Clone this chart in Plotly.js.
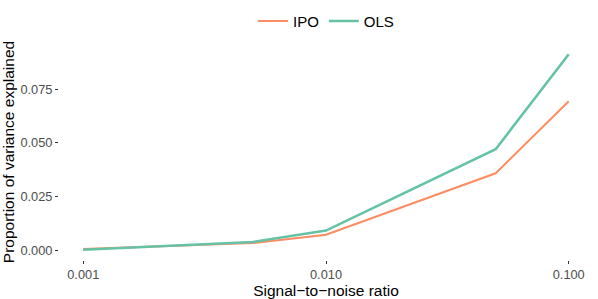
<!DOCTYPE html>
<html>
<head>
<meta charset="utf-8">
<script src="https://cdn.plot.ly/plotly-3.0.1.min.js"></script>
<style>html,body{margin:0;padding:0;background:#fff;}#chart{width:598px;height:299px;}</style>
</head>
<body>
<div id="chart"></div>
<script>
const snr = [0.001, 0.005, 0.01, 0.05, 0.1];
const ipo = [0.0005, 0.0033, 0.0072, 0.0358, 0.0693];
const ols = [0.0002, 0.0038, 0.0091, 0.0470, 0.0912];
const xTickVals = [0.001, 0.01, 0.1];
const xTickText = ["0.001", "0.010", "0.100"];
const yTickVals = [0, 0.025, 0.05, 0.075];
const yTickText = ["0.000", "0.025", "0.050", "0.075"];

const traces = [
  {x: snr, y: ipo, name: "IPO", mode: "lines", line: {color: "#FC8D62", width: 2}},
  {x: snr, y: ols, name: "OLS", mode: "lines", line: {color: "#66C2A5", width: 2.6}}
];
const layout = {
  width: 598, height: 299,
  margin: {l: 59, r: 5, t: 40, b: 39},
  paper_bgcolor: "#fff", plot_bgcolor: "#fff",
  font: {family: "Liberation Sans, Arial, sans-serif", color: "#000"},
  showlegend: true,
  legend: {orientation: "h", x: 0.5, xanchor: "center", y: 1.105, yanchor: "middle",
           font: {size: 15, color: "#000"}, itemwidth: 30, tracegroupgap: 0},
  xaxis: {
    type: "log", range: [-3.1, -0.9],
    tickvals: xTickVals, ticktext: xTickText,
    ticks: "outside", ticklen: 3, tickcolor: "#333", tickwidth: 1,
    showgrid: false, zeroline: false, showline: false,
    tickfont: {size: 12.8, color: "#4d4d4d"},
    title: {text: "Signal\u2212to\u2212noise ratio", font: {size: 15.5, color: "#000"}, standoff: 3}
  },
  yaxis: {
    range: [-0.0046, 0.0960],
    tickvals: yTickVals, ticktext: yTickText,
    ticks: "outside", ticklen: 3, tickcolor: "#333", tickwidth: 1,
    showgrid: false, zeroline: false, showline: false,
    tickfont: {size: 12.8, color: "#4d4d4d"},
    title: {text: "Proportion of variance explained", font: {size: 15.5, color: "#000"}, standoff: 4}
  }
};
Plotly.newPlot("chart", traces, layout, {staticPlot: true, displayModeBar: false});
</script>
</body>
</html>
